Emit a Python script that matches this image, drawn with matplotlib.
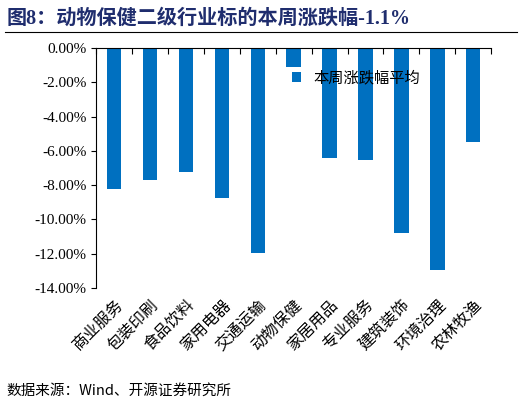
import matplotlib.pyplot as plt
from matplotlib.ticker import FuncFormatter

plt.rcParams['font.family'] = ['Noto Sans CJK SC', 'DejaVu Sans']

categories = ['商业服务', '包装印刷', '食品饮料', '家用电器', '交通运输', '动物保健',
              '家居用品', '专业服务', '建筑装饰', '环境治理', '农林牧渔']
values = [-8.2, -7.7, -7.25, -8.75, -11.95, -1.1, -6.4, -6.55, -10.8, -12.95, -5.45]

fig = plt.figure(figsize=(5.22, 4.05), dpi=100)
fig.text(0.012, 0.955, '图8：动物保健二级行业标的本周涨跌幅-1.1%', color='#1F2D6E',
         fontsize=14.5, fontweight='bold', va='center', family=['Liberation Serif', 'Noto Sans CJK SC'])
fig.add_artist(plt.Line2D([0.01, 0.99], [0.922, 0.922], color='black', lw=0.8))
fig.text(0.012, 0.035, '数据来源：Wind、开源证券研究所', fontsize=10.5, va='center')

ax = fig.add_axes([0.184, 0.289, 0.757, 0.592])
x = range(len(categories))
ax.bar(x, values, width=0.4, color='#0070C0', label='本周涨跌幅平均')
ax.set_xlim(-0.5, len(categories) - 0.5)
ax.set_ylim(-14, 0)
ax.set_yticks([-14, -12, -10, -8, -6, -4, -2, 0])
ax.yaxis.set_major_formatter(FuncFormatter(lambda v, p: f'{v:.2f}%'))
ax.set_xticks([i - 0.5 for i in range(len(categories) + 1)], minor=False)
ax.set_xticklabels([])
ax.set_xticks(list(x), minor=True)
ax.set_xticklabels(categories, minor=True, rotation=45, ha='right', rotation_mode='anchor', fontsize=11.5)
ax.tick_params(axis='x', which='minor', length=0, pad=6)
ax.tick_params(axis='x', which='major', direction='in', length=4)
ax.xaxis.set_ticks_position('top')
ax.tick_params(axis='x', which='minor', labeltop=False, labelbottom=True)
for s in ['right', 'bottom']:
    ax.spines[s].set_visible(False)
for lab in ax.get_yticklabels():
    lab.set_family(['Liberation Serif'])
    lab.set_fontsize(11)
ax.legend(loc='upper left', bbox_to_anchor=(0.46, 0.97), frameon=False, fontsize=11,
          handlelength=0.6, handleheight=0.6)
fig.savefig('out.png', dpi=100)
